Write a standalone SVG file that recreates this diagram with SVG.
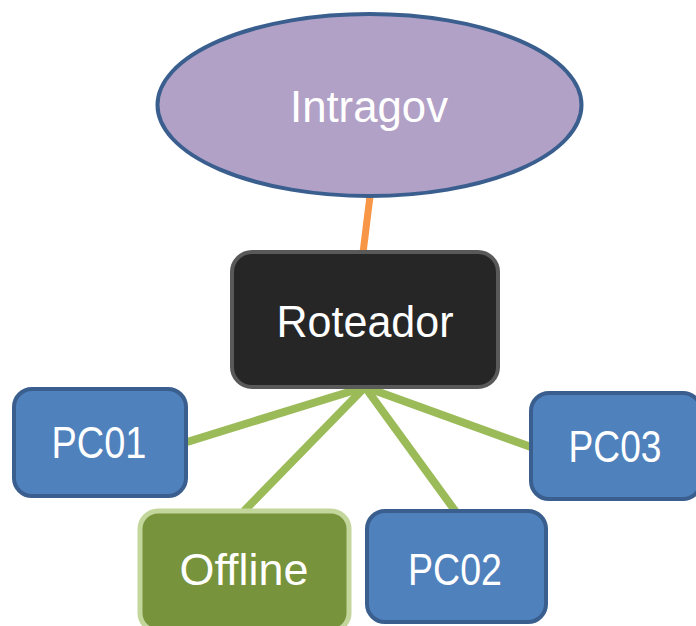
<svg xmlns="http://www.w3.org/2000/svg" width="696" height="626" viewBox="0 0 696 626">
<style>
.t{font-family:"Liberation Sans",Arial,sans-serif;font-size:44px;fill:#ffffff;text-anchor:middle}
.pc{fill:#4f81bd;stroke:#3a5f8f;stroke-width:4}
.lan{stroke:#9bbb59;stroke-width:8;fill:none}
</style>
<rect width="696" height="626" fill="#ffffff"/>
<g id="connectors">
<line x1="370" y1="196" x2="363" y2="253" stroke="#f79646" stroke-width="7"/>
<line class="lan" x1="365" y1="387" x2="187" y2="442"/>
<line class="lan" x1="365" y1="387" x2="531" y2="447"/>
<line class="lan" x1="365" y1="387" x2="244" y2="511"/>
<line class="lan" x1="365" y1="387" x2="456" y2="512"/>
</g>
<g id="intragov">
<ellipse cx="369.5" cy="105" rx="212" ry="91" fill="#b2a1c7" stroke="#3a5f8f" stroke-width="4"/>
<text class="t" x="369" y="122" textLength="158" lengthAdjust="spacingAndGlyphs">Intragov</text>
</g>
<g id="roteador">
<rect x="232" y="252" width="266" height="135" rx="20" fill="#262626" stroke="#595959" stroke-width="4"/>
<text class="t" x="365" y="337" textLength="177" lengthAdjust="spacingAndGlyphs">Roteador</text>
</g>
<g id="pc01">
<rect class="pc" x="14" y="389" width="172" height="107" rx="18"/>
<text class="t" x="99" y="458" textLength="95" lengthAdjust="spacingAndGlyphs">PC01</text>
</g>
<g id="pc03">
<rect class="pc" x="531" y="393" width="170" height="106" rx="18"/>
<text class="t" x="615" y="462" textLength="93" lengthAdjust="spacingAndGlyphs">PC03</text>
</g>
<g id="offline">
<rect x="140" y="511" width="209" height="120" rx="18" fill="#77933c" stroke="#c3d69b" stroke-width="5"/>
<text class="t" x="244" y="585" textLength="129" lengthAdjust="spacingAndGlyphs">Offline</text>
</g>
<g id="pc02">
<rect class="pc" x="367" y="511" width="179" height="111" rx="18"/>
<text class="t" x="455" y="585" textLength="94" lengthAdjust="spacingAndGlyphs">PC02</text>
</g>
</svg>
